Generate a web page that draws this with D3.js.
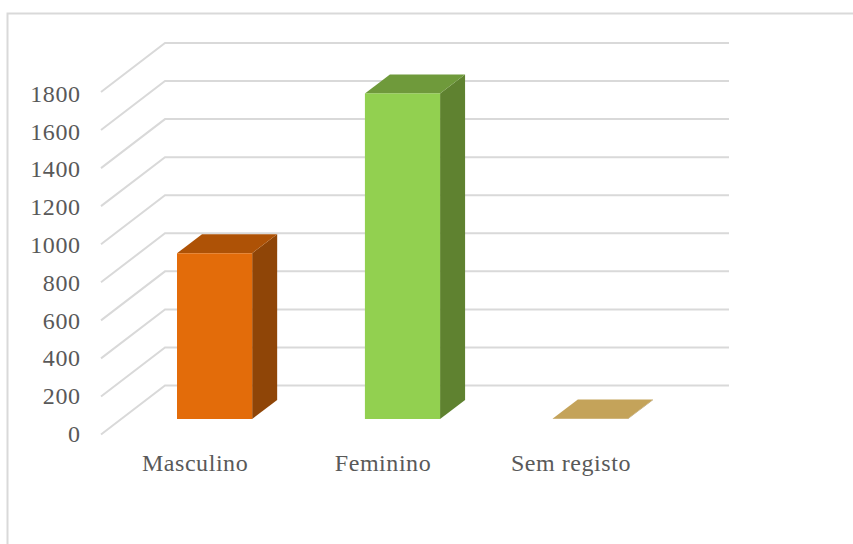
<!DOCTYPE html>
<html><head><meta charset="utf-8">
<script src="https://cdn.jsdelivr.net/npm/d3@7"></script>
<style>html,body{margin:0;padding:0;background:#fff}svg{display:block}
text{font-family:"Liberation Serif",serif;fill:#595959;font-size:24px;letter-spacing:.55px}</style></head>
<body><svg id="c" width="853" height="544"></svg>
<script>
const categories = ["Masculino","Feminino","Sem registo"];
const values = [871, 1711, 3];
const tickValues = [0,200,400,600,800,1000,1200,1400,1600,1800];
const frontColors = ["#E36C0A","#92D050","#C4A35A"];
const sideColors = ["#8F4507","#5F8230","#9A7F45"];
const topColors = ["#AE5206","#6F9A3B","#C4A35A"];

const svg = d3.select("#c");
const W = 853, H = 544;
svg.append("path").attr("d",`M7.5,${H+2}V13.5H853`).attr("fill","none").attr("stroke","#D9D9D9").attr("stroke-width",2);

const y = d3.scaleLinear().domain([0,1800]).range([434.5,92]);
const labelY = d3.scaleLinear().domain([0,1800]).range([442,101.7]);
const dx = 64, dy = -49;
const gridRight = 729;
const grid = svg.append("g").attr("fill","none").attr("stroke","#D9D9D9").attr("stroke-width",2);
grid.selectAll("path").data(tickValues).join("path")
  .attr("d",v=>`M101,${y(v)}L${101+dx},${y(v)+dy}H${gridRight}`);

svg.append("g").selectAll("text").data(tickValues).join("text")
  .attr("x",80.5).attr("y",v=>labelY(v)).attr("text-anchor","end").text(v=>v);

const x = d3.scaleBand().domain(categories).range([177,628]).paddingInner(0.6).paddingOuter(0);
const base = 419, px = y(0)-y(1);
const ddx = 25, ddy = -19;
const bars = svg.append("g").selectAll("g").data(categories).join("g");
bars.each(function(c,i){
  const g = d3.select(this), l = x(c), r = l+x.bandwidth(), t = base - values[i]*px;
  g.append("path").attr("fill",sideColors[i]).attr("d",`M${r},${base}L${r+ddx},${base+ddy}V${t+ddy}L${r},${t}Z`);
  g.append("path").attr("fill",topColors[i]).attr("d",`M${l},${t}L${l+ddx},${t+ddy}H${r+ddx}L${r},${t}Z`);
  g.append("rect").attr("fill",frontColors[i]).attr("x",l).attr("y",t).attr("width",r-l).attr("height",base-t);
});
svg.append("g").selectAll("text").data(categories).join("text")
  .attr("x",c=>x(c)+x.bandwidth()/2-19.5).attr("y",471).attr("text-anchor","middle").text(c=>c);
</script></body></html>
